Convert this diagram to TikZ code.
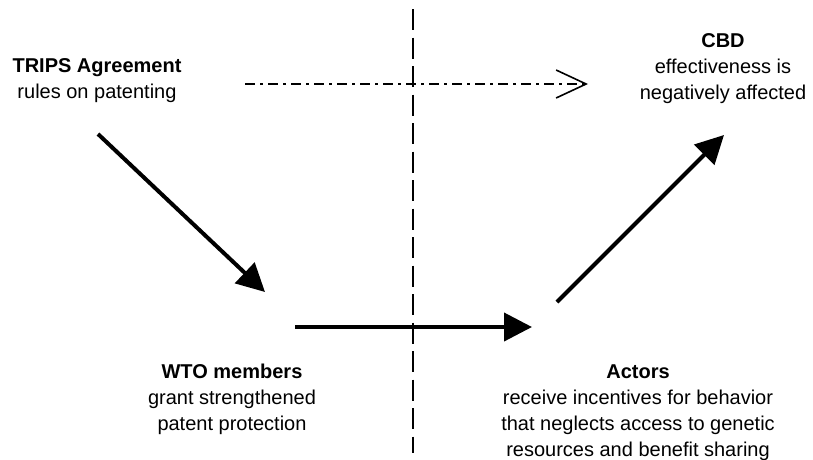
\documentclass[tikz,border=0pt]{standalone}
\usepackage{fontspec}
\setmainfont{Liberation Sans}
\usetikzlibrary{arrows.meta}

\begin{document}
\begin{tikzpicture}[x=1pt, y=-1pt,
    txt/.style={align=center, inner sep=0pt, anchor=base,
      font=\fontsize{20}{26}\selectfont},
    flow/.style={line width=4pt, -{Triangle[length=28pt,width=28pt]}},
    effect/.style={line width=1.6pt, dash pattern=on 10pt off 5pt on 3pt off 5pt,
      -{Straight Barb[length=30pt,width=28pt,line width=1.6pt]}}]
    \useasboundingbox (0,0) rectangle (813,459);
    % divider
    \draw[line width=2pt, dash pattern=on 21pt off 7.5pt] (413,9) -- (413,453);
    \node[txt] (trips) at (97,98) {\textbf{TRIPS Agreement}\\rules on patenting};
    \node[txt] (cbd) at (723,99) {\textbf{CBD}\\effectiveness is\\negatively affected};
    \node[txt] (wto) at (232,430) {\textbf{WTO members}\\grant strengthened\\patent protection};
    \node[txt] (actors) at (638,456) {\textbf{Actors}\\receive incentives for behavior\\that neglects access to genetic\\resources and benefit sharing};
    \draw[effect] ([shift={(148,-14)}]trips.base) -- ([shift={(-135,-15)}]cbd.base);
    \draw[flow] ([shift={(1,36)}]trips.base) -- ([shift={(33,-138)}]wto.base);
    \draw[flow] ([shift={(63,-103)}]wto.base) -- ([shift={(-106,-129)}]actors.base);
    \draw[flow] ([shift={(-81,-154)}]actors.base) -- ([shift={(1,36)}]cbd.base);
\end{tikzpicture}
\end{document}
